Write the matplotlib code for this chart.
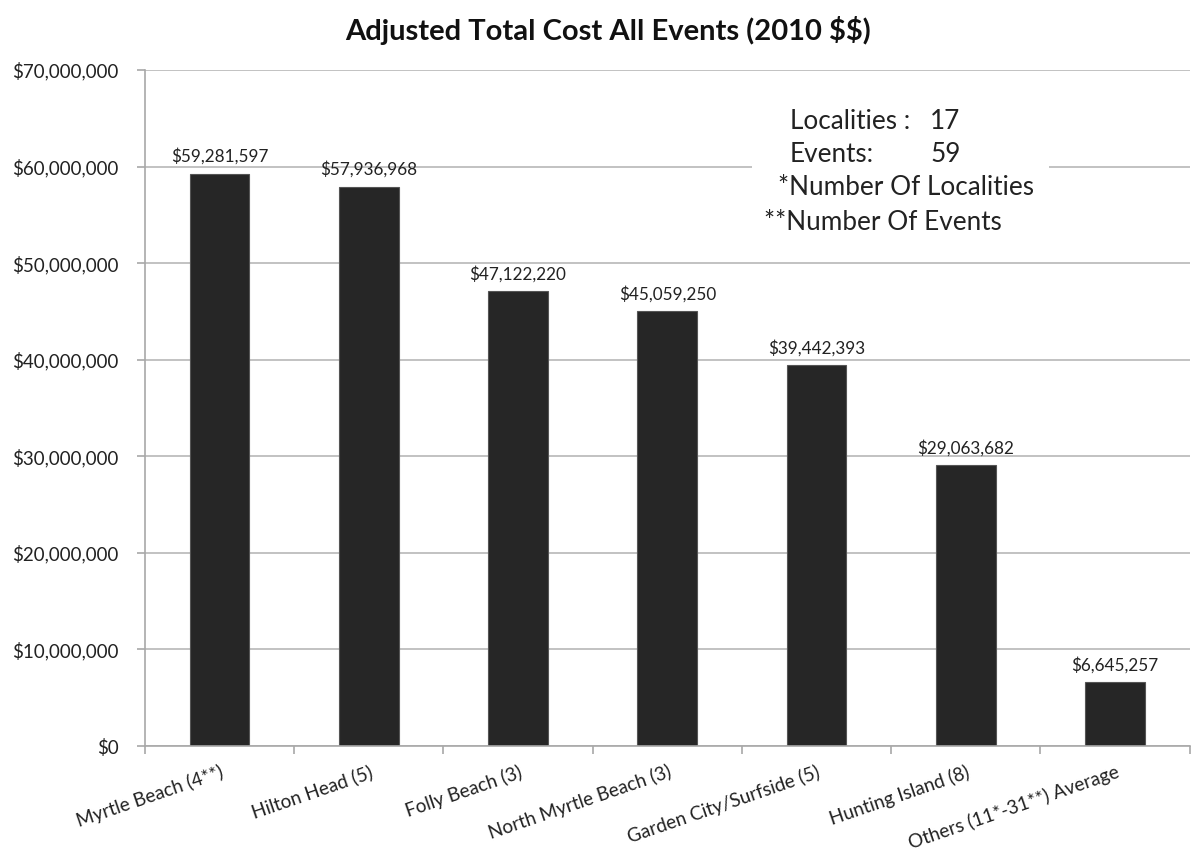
import matplotlib
matplotlib.use("Agg")
import matplotlib.pyplot as plt
from matplotlib.patches import Rectangle
from matplotlib.ticker import FuncFormatter
import numpy as np

plt.rcParams['font.family'] = ['Lato', 'DejaVu Sans']
plt.rcParams['text.parse_math'] = False

# total adjusted cost per locality, number of events in brackets
places = ["Myrtle Beach (4**)", "Hilton Head (5)", "Folly Beach (3)",
          "North Myrtle Beach (3)", "Garden City/Surfside (5)",
          "Hunting Island (8)", "Others (11*-31**) Average"]
cost = [59281597, 57936968, 47122220, 45059250, 39442393, 29063682, 6645257]

n_localities = 17
n_events = 59

fig = plt.figure(figsize=(11.92, 8.59), dpi=100)
ax = fig.add_axes([0.1216, 0.1315, 0.8765, 0.787])

x = np.arange(len(places))
bars = ax.bar(x, cost, width=0.4, color='#262626', edgecolor='#555555',
              linewidth=0.8, zorder=2)

for xi, v in zip(x, cost):
    ax.text(xi, v + 900000, '${:,}'.format(v), ha='center', va='bottom',
            fontsize=12.3, color='#222222')

ax.set_xlim(-0.5, len(places) - 0.5)
ax.set_ylim(0, 70000000)
ax.set_yticks(np.arange(0, 70000001, 10000000))
ax.yaxis.set_major_formatter(FuncFormatter(lambda v, p: '${:,.0f}'.format(v)))
ax.grid(axis='y', color='#b8b8b8', linewidth=1.2)
ax.set_axisbelow(True)

# category boundaries get the tick marks, labels sit at the centres
ax.set_xticks(x + 0.04)
ax.set_xticklabels(places, rotation=19, ha='right', fontsize=13.6,
                   color='#222222')
ax.set_xticks(np.arange(-0.5, len(places), 1.0), minor=True)
ax.tick_params(axis='x', which='major', length=0, pad=12)
ax.tick_params(axis='x', which='minor', length=6, color='#a8a8a8', width=1.2)
ax.tick_params(axis='y', length=6, color='#a8a8a8', width=1.2, pad=13,
               labelsize=13.5, labelcolor='#222222')

for s in ['top', 'right']:
    ax.spines[s].set_visible(False)
ax.spines['left'].set_color('#a8a8a8')
ax.spines['bottom'].set_color('#a8a8a8')
ax.spines['left'].set_linewidth(1.2)
ax.spines['bottom'].set_linewidth(1.2)

# note box over the grid
ax.add_patch(Rectangle((3.566, 52400000), 1.99, 14500000, facecolor='white',
                       edgecolor='none', zorder=1))
note = dict(fontsize=18.8, va='center', color='#222222')
ax.text(3.82, 64700000, 'Localities :', **note)
ax.text(4.76, 64700000, str(n_localities), **note)
ax.text(3.82, 61200000, 'Events:', **note)
ax.text(4.76, 61200000, str(n_events), **note)
ax.text(3.74, 57800000, '*Number Of Localities', **note)
ax.text(3.65, 54200000, '**Number Of Events', **note)

fig.text(0.51, 0.965, 'Adjusted Total Cost All Events (2010 $$)', ha='center',
         va='center', fontsize=21, fontweight='bold', color='#111111')

fig.savefig('out.png', dpi=100)
